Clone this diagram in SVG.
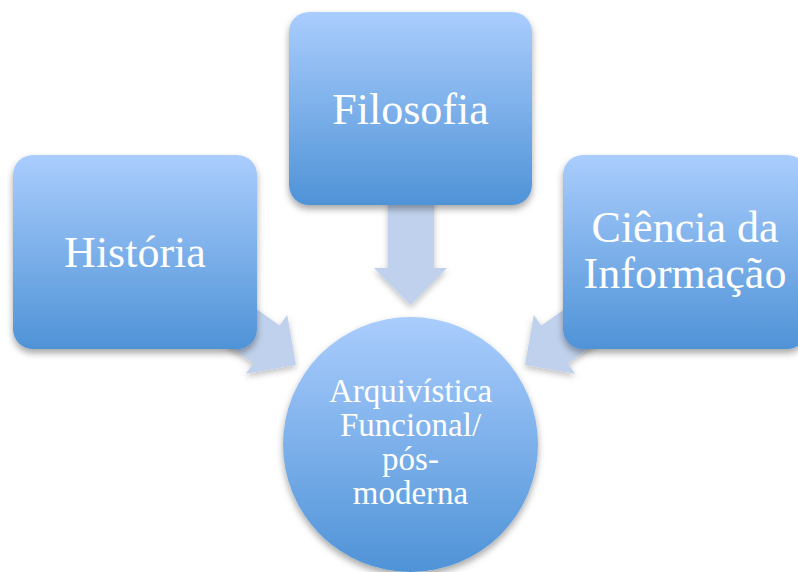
<svg xmlns="http://www.w3.org/2000/svg" width="798" height="572" viewBox="0 0 798 572">
  <defs>
    <linearGradient id="gBox" x1="0" y1="0" x2="0" y2="1">
      <stop offset="0" stop-color="#aacdfd"/>
      <stop offset="1" stop-color="#4f93d7"/>
    </linearGradient>
    <filter id="sh" x="-20%" y="-20%" width="140%" height="150%">
      <feDropShadow dx="0" dy="4" stdDeviation="3.5" flood-color="#000" flood-opacity="0.35"/>
    </filter>
    <filter id="shA" x="-30%" y="-30%" width="160%" height="160%">
      <feDropShadow dx="0" dy="3" stdDeviation="3" flood-color="#000" flood-opacity="0.25"/>
    </filter>
  </defs>
  <style>
    .node { fill: url(#gBox); filter: url(#sh); }
    .arrow { fill: #bfd1ec; filter: url(#shA); }
    .lbl { fill: #ffffff; font-family: "Liberation Serif", "Times New Roman", serif; font-size: 44px; text-anchor: middle; }
    .clbl { fill: #ffffff; font-family: "Liberation Serif", "Times New Roman", serif; font-size: 33px; text-anchor: middle; }
  </style>
  <rect width="798" height="572" fill="#ffffff"/>
  <g id="connectors">
    <polygon class="arrow" points="388,200 434,200 434,268 447,268 410.5,305 374,268 388,268"/>
    <polygon class="arrow" points="214.1,279.4 279.7,325.4 287.2,314.8 296,365 245.8,373.8 253.3,363.2 187.7,317.2"/>
    <polygon class="arrow" points="606.9,279.4 541.3,325.4 533.8,314.8 525,365 575.2,373.8 567.7,363.2 633.3,317.2"/>
  </g>
  <g id="node-historia">
    <rect class="node" x="13" y="155" width="244" height="194" rx="20"/>
    <text class="lbl" x="135" y="267">História</text>
  </g>
  <g id="node-filosofia">
    <rect class="node" x="289" y="12" width="243" height="193" rx="20"/>
    <text class="lbl" x="410.5" y="124">Filosofia</text>
  </g>
  <g id="node-ciencia">
    <rect class="node" x="563" y="155" width="244" height="194" rx="20"/>
    <text class="lbl" x="685" y="242">Ciência da</text>
    <text class="lbl" x="685" y="288">Informação</text>
  </g>
  <g id="node-arquivistica">
    <circle class="node" cx="410.5" cy="444.5" r="127.5"/>
    <text class="clbl" x="410.5" y="402">Arquivística</text>
    <text class="clbl" x="410.5" y="436">Funcional/</text>
    <text class="clbl" x="410.5" y="470">pós-</text>
    <text class="clbl" x="410.5" y="504">moderna</text>
  </g>
</svg>
